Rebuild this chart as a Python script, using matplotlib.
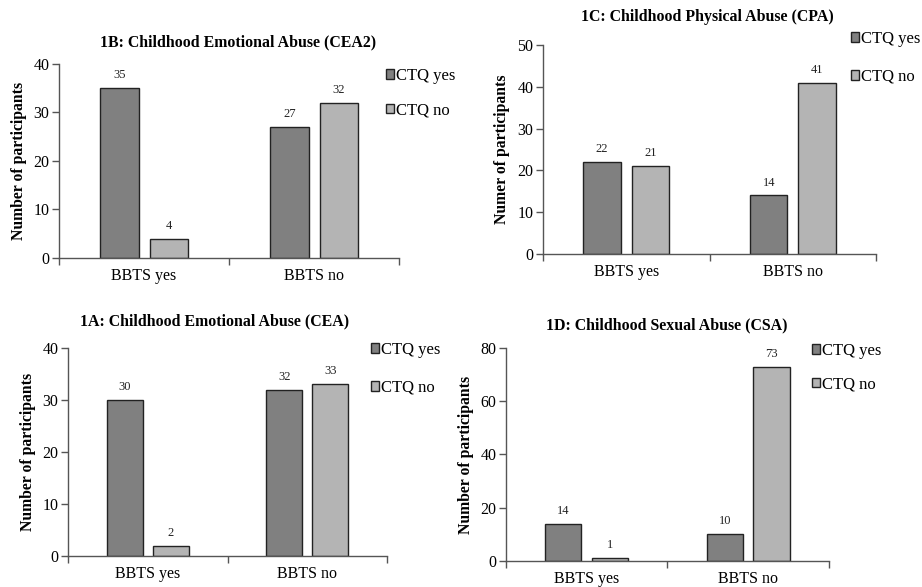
import matplotlib
matplotlib.use("Agg")
import matplotlib.pyplot as plt
import numpy as np

plt.rcParams['font.family'] = ['Liberation Serif', 'DejaVu Serif']

categories = ['BBTS yes', 'BBTS no']
series_names = ['CTQ yes', 'CTQ no']

cea2_yes = [35, 27]
cea2_no = [4, 32]
cpa_yes = [22, 14]
cpa_no = [21, 41]
cea_yes = [30, 32]
cea_no = [2, 33]
csa_yes = [14, 10]
csa_no = [1, 73]

dark = '#808080'
light = '#b4b4b4'
axcol = '#555555'


def panel(fig, rect, yes_vals, no_vals, ymax, ystep, title, title_xy, ylabel,
          ylabel_x, leg_xy, leg_space):
    ax = fig.add_axes(rect)
    x = np.arange(len(categories))
    w = 0.225
    off = 0.145
    b1 = ax.bar(x - off, yes_vals, w, color=dark, edgecolor='#222222', linewidth=1,
                label=series_names[0])
    b2 = ax.bar(x + off, no_vals, w, color=light, edgecolor='#222222', linewidth=1,
                label=series_names[1])
    ax.bar_label(b1, padding=5, fontsize=9, color='#222222')
    ax.bar_label(b2, padding=5, fontsize=9, color='#222222')

    ax.set_xlim(-0.5, 1.5)
    ax.set_ylim(0, ymax)
    ax.set_yticks(np.arange(0, ymax + 1, ystep))
    ax.set_xticks(x)
    ax.set_xticklabels(categories)
    ax.set_xticks([-0.5, 0.5, 1.5], minor=True)
    ax.tick_params(axis='x', which='major', length=0, pad=7, labelsize=11.5)
    ax.tick_params(axis='x', which='minor', length=5, width=1, color=axcol,
                   direction='out')
    ax.tick_params(axis='y', length=5, width=1, color=axcol, labelsize=11.5, pad=2)
    for s in ['top', 'right']:
        ax.spines[s].set_visible(False)
    for s in ['left', 'bottom']:
        ax.spines[s].set_color(axcol)
        ax.spines[s].set_linewidth(1)

    ax.set_ylabel(ylabel, fontsize=11.3, fontweight='bold')
    ax.yaxis.set_label_coords(ylabel_x, 0.5)

    fig.text(title_xy[0], title_xy[1], title, fontsize=11.4, fontweight='bold',
             ha='center', va='center')

    ax.legend(loc='upper left', bbox_to_anchor=leg_xy, bbox_transform=fig.transFigure,
              frameon=False, fontsize=12, handlelength=0.5, handleheight=0.5,
              handletextpad=0.12, labelspacing=leg_space, borderpad=0,
              borderaxespad=0)
    return ax


fig = plt.figure(figsize=(9.22, 5.87), dpi=100)

panel(fig, [0.064, 0.5605, 0.369, 0.3305], cea2_yes, cea2_no, 40, 10,
      '1B: Childhood Emotional Abuse (CEA2)', (238 / 922, 1 - 42 / 587),
      'Number of participants', -0.095, (386 / 922, 1 - 68 / 587), 1.1)

panel(fig, [0.589, 0.5673, 0.3612, 0.356], cpa_yes, cpa_no, 50, 10,
      '1C: Childhood Physical Abuse (CPA)', (707 / 922, 1 - 17 / 587),
      'Numer of participants', -0.10, (851 / 922, 1 - 31 / 587), 1.3)

panel(fig, [0.0738, 0.0528, 0.346, 0.3544], cea_yes, cea_no, 40, 10,
      '1A: Childhood Emotional Abuse (CEA)', (215 / 922, 1 - 321 / 587),
      'Number of participants', -0.10, (371 / 922, 1 - 342 / 587), 1.3)

panel(fig, [0.5488, 0.0443, 0.3503, 0.3629], csa_yes, csa_no, 80, 20,
      '1D: Childhood Sexual Abuse (CSA)', (667 / 922, 1 - 325 / 587),
      'Number of participants', -0.10, (812 / 922, 1 - 343 / 587), 1.05)

fig.savefig('out.png', dpi=100)
